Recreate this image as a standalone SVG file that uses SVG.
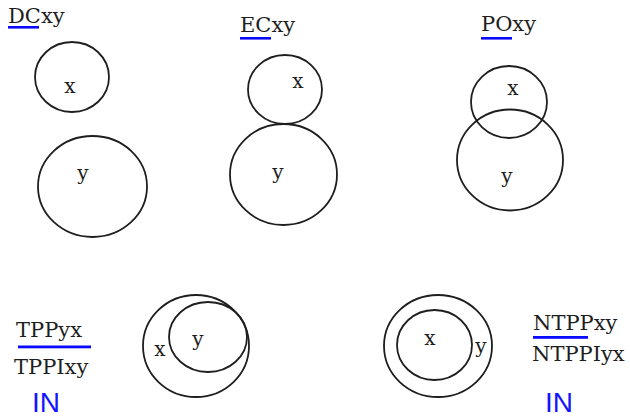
<svg xmlns="http://www.w3.org/2000/svg" width="630" height="417" viewBox="0 0 630 417">
  <style>
    .region { fill: none; stroke: #1e1e1e; stroke-width: 1.8; }
    .lbl { font-family: "DejaVu Serif", "Liberation Serif", serif; font-size: 20px; fill: #1e1e1e; text-anchor: middle; }
    .name { font-family: "DejaVu Serif", "Liberation Serif", serif; font-size: 21px; fill: #1e1e1e; }
    .mark { fill: #0a0aff; }
    .inv { font-family: "Liberation Sans", Arial, sans-serif; font-size: 28px; fill: #1414ff; }
  </style>
  <rect width="630" height="417" fill="#ffffff"/>

  <!-- DC: disconnected -->
  <g id="dc">
    <text class="name" x="8" y="23">DCxy</text>
    <rect class="mark" x="8" y="26" width="31" height="2.6"/>
    <ellipse class="region" cx="72" cy="77" rx="37" ry="35"/>
    <text class="lbl" x="70" y="93">x</text>
    <ellipse class="region" cx="92.5" cy="186.5" rx="54.5" ry="50.5"/>
    <text class="lbl" x="83" y="180">y</text>
  </g>

  <!-- EC: externally connected -->
  <g id="ec">
    <text class="name" x="240" y="32">ECxy</text>
    <rect class="mark" x="240" y="37" width="31" height="2.6"/>
    <ellipse class="region" cx="285" cy="89.5" rx="37" ry="34.5"/>
    <text class="lbl" x="298" y="88">x</text>
    <ellipse class="region" cx="283.5" cy="174.5" rx="53.5" ry="50.5"/>
    <text class="lbl" x="278" y="179">y</text>
  </g>

  <!-- PO: partially overlapping -->
  <g id="po">
    <text class="name" x="481" y="31">POxy</text>
    <rect class="mark" x="481" y="37" width="31" height="2.6"/>
    <ellipse class="region" cx="509" cy="102" rx="38" ry="36"/>
    <text class="lbl" x="513" y="95">x</text>
    <ellipse class="region" cx="510" cy="160" rx="53" ry="50.5"/>
    <text class="lbl" x="507" y="183">y</text>
  </g>

  <!-- TPP: tangential proper part -->
  <g id="tpp">
    <text class="name" x="16" y="337">TPPyx</text>
    <rect class="mark" x="18" y="345.5" width="73" height="2.8"/>
    <text class="name" x="14" y="374">TPPIxy</text>
    <text class="inv" x="32" y="412">IN</text>
    <ellipse class="region" cx="196" cy="346" rx="53" ry="51"/>
    <ellipse class="region" cx="208" cy="337" rx="39" ry="35"/>
    <text class="lbl" x="160" y="356">x</text>
    <text class="lbl" x="198" y="346">y</text>
  </g>

  <!-- NTPP: non-tangential proper part -->
  <g id="ntpp">
    <text class="name" x="533" y="330">NTPPxy</text>
    <rect class="mark" x="533" y="336" width="55" height="2.8"/>
    <text class="name" x="532" y="361">NTPPIyx</text>
    <text class="inv" x="545" y="412">IN</text>
    <ellipse class="region" cx="438" cy="346" rx="54" ry="51"/>
    <ellipse class="region" cx="434.5" cy="345" rx="37.5" ry="35"/>
    <text class="lbl" x="430" y="345">x</text>
    <text class="lbl" x="481" y="353">y</text>
  </g>

  <g id="connectors"/>
</svg>
